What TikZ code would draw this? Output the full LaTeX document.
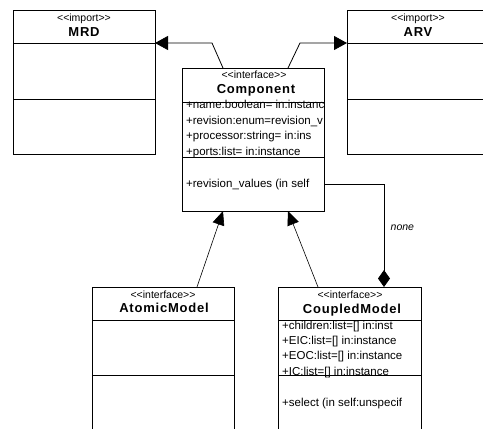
\documentclass[tikz,border=0pt]{standalone}
\usepackage{fontspec}
\setmainfont{Liberation Sans}[Ligatures=TeXOff]
\usetikzlibrary{arrows.meta, positioning, calc}

\begin{document}
\begin{tikzpicture}[x=1pt, y=-1pt, >=Stealth,
    classbox/.style = {rectangle, draw=black, line width=0.9pt, minimum width=142pt, minimum height=144pt, anchor=north west, inner sep=0pt, outer sep=0pt},
    stereo/.style = {font=\fontsize{10.5}{12}\selectfont, anchor=base, inner sep=0pt},
    cname/.style = {font=\fontsize{13}{15}\selectfont\bfseries\addfontfeature{LetterSpace=6}, anchor=base, inner sep=0pt},
    member/.style = {font=\fontsize{11.5}{13}\selectfont, anchor=base west, inner sep=0pt},
    divider/.style = {line width=0.9pt},
    inherit/.style = {line width=0.6pt, -{Triangle[length=14pt, width=12pt]}},
    depend/.style = {line width=0.8pt, -{Triangle[length=13pt, width=14pt]}},
    compose/.style = {line width=0.8pt, -{Diamond[length=17pt, width=12pt]}}]
        \useasboundingbox (0,0) rectangle (483,429);
        \clip (0,0) rectangle (483,429);

        % Boxes
        \node (mrd) [classbox] at (13,10) {};
        \node (arv) [classbox, right=192pt of mrd] {};
        \node (comp) [classbox, minimum height=143pt] at (182,68) {};
        \node (atomic) [classbox, minimum height=160pt] at (92,287) {};
        \node (coupled) [classbox, minimum height=160pt, minimum width=143pt, right=44pt of atomic] {};

        % Headers
        \node (mrdst) [stereo] at (84,21.5) {<<import>>};
        \node (mrdname) [cname] at (84,36.5) {MRD};
        \node (arvst) [stereo] at (418,21.5) {<<import>>};
        \node (arvname) [cname] at (418,36.5) {ARV};
        \node (compst) [stereo] at (254,78) {<<interface>>};
        \node (compname) [cname] at (256,93) {Component};
        \node (atomicst) [stereo] at (163,298) {<<interface>>};
        \node (atomicname) [cname] at (164,312.5) {AtomicModel};
        \node (coupledst) [stereo] at (350,298) {<<interface>>};
        \node (coupledname) [cname] at (352,313) {CoupledModel};

        % Dividers
        \draw [divider] (mrd.west |- 0,43) -- (mrd.east |- 0,43);
        \draw [divider] (mrd.west |- 0,99) -- (mrd.east |- 0,99);
        \draw [divider] (arv.west |- 0,43) -- (arv.east |- 0,43);
        \draw [divider] (arv.west |- 0,99) -- (arv.east |- 0,99);
        \draw [divider] (comp.west |- 0,102) -- (comp.east |- 0,102);
        \draw [divider] (comp.west |- 0,157) -- (comp.east |- 0,157);
        \draw [divider] (atomic.west |- 0,320) -- (atomic.east |- 0,320);
        \draw [divider] (atomic.west |- 0,375) -- (atomic.east |- 0,375);
        \draw [divider] (coupled.west |- 0,320) -- (coupled.east |- 0,320);
        \draw [divider] (coupled.west |- 0,375) -- (coupled.east |- 0,375);

        % Members
        \begin{scope}
            \clip (comp.north west) rectangle (comp.south east);
            \node (compattr1) [member] at (186,108) {+name:boolean= in:instanc};
            \node (compattr2) [member] at (186,124) {+revision:enum=revision\_v};
            \node (compattr3) [member] at (186,139) {+processor:string= in:ins};
            \node (compattr4) [member] at (186,155) {+ports:list= in:instance};
            \node (compop1) [member] at (186,187) {+revision\_values (in self};
        \end{scope}
        \node (coupledattr1) [member] at (282,329.5) {+children:list=[] in:inst};
        \node (coupledattr2) [member] at (282,344.5) {+EIC:list=[] in:instance};
        \node (coupledattr3) [member] at (282,359.5) {+EOC:list=[] in:instance};
        \node (coupledattr4) [member] at (282,375) {+IC:list=[] in:instance};
        \node (coupledop1) [member] at (282,406) {+select (in self:unspecif};

        % Arrows
        \draw [depend] ($(comp.north west)+(41,0)$) -- ($(mrd.north east)+(57,33)$) -- ($(mrd.north east)+(0,33)$);
        \draw [depend] ($(comp.north west)+(106,0)$) -- ($(arv.north west)+(-47,33)$) -- ($(arv.north west)+(0,33)$);
        \draw [inherit] ($(atomic.north west)+(105,0)$) -- ($(comp.south west)+(41,0)$);
        \draw [inherit] ($(coupled.north west)+(40,0)$) -- ($(comp.south west)+(106,0)$);
        \draw [compose] ($(comp.north east)+(0,116)$) -| node (nonelbl) [pos=0.71, right=3pt, font=\itshape\fontsize{10.5}{12}\selectfont] {none} ($(coupled.north west)+(106,0)$);
    \end{tikzpicture}
\end{document}
